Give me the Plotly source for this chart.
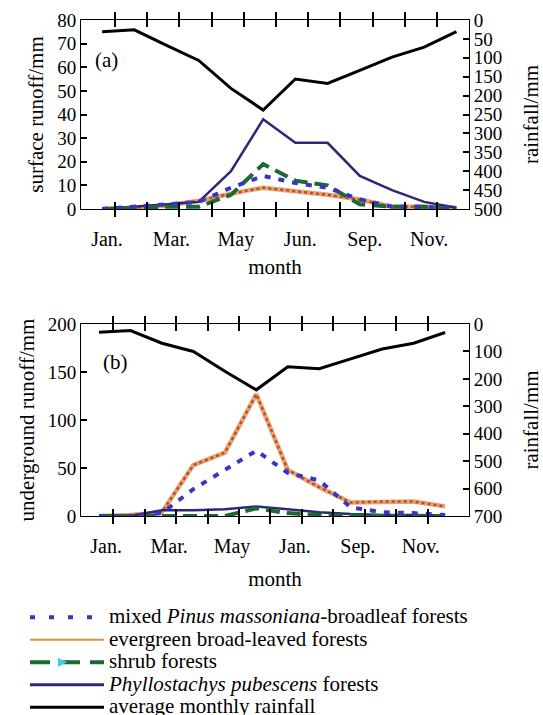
import plotly.graph_objects as go
from plotly.subplots import make_subplots

months = list(range(1, 13))
tick_months = [1, 3, 5, 7, 9, 11]
ticktext_a = ["Jan.", "Mar.", "May", "Jun.", "Sep.", "Nov."]
ticktext_b = ["Jan.", "Mar.", "May", "Jan.", "Sep.", "Nov."]

# (a) surface runoff (mm)
surf_mixed = [0, 1, 2, 3, 9, 14, 11, 9, 4, 1, 1, 0]
surf_evergreen = [0, 0.5, 1.5, 3.5, 6.5, 9, 7.5, 6, 4, 1, 1, 0.5]
surf_shrub = [0, 0.5, 1, 1, 6, 19, 12, 10, 2, 1, 1, 0]
surf_phyllo = [0, 1, 2, 3, 16, 38, 28, 28, 14, 8, 3, 0.5]
rain_a = [31, 26, 67, 107, 181, 238, 156, 168, 133, 98, 72, 31]

# (b) underground runoff (mm)
under_mixed = [0, 0, 3, 28, 48, 68, 45, 37, 9, 4, 3, 1]
under_evergreen = [0, 1, 4, 53, 66, 127, 48, 30, 14, 15, 15, 10]
under_shrub = [0, 0, 0, 0, 0, 8, 3, 1, 0, 0, 0, 0]
under_phyllo = [0, 0, 6, 6, 7, 10, 7, 4, 2, 1, 1, 0.5]
rain_b = [30, 24, 70, 100, 172, 240, 156, 163, 127, 91, 70, 31]

FONT = "'Liberation Serif', 'Times New Roman', Times, serif"
C_MIXED = "#3a34c6"
C_ORANGE = "#eea070"
C_BROWN = "#a9582e"
C_SHRUB = "#1b6a2f"
C_PHYLLO = "#2c2878"

fig = make_subplots(rows=2, cols=1, specs=[[{"secondary_y": True}], [{"secondary_y": True}]])


def add_panel(row, mixed, ever, shrub, phyllo, rain):
    fig.add_trace(go.Scatter(x=months, y=ever, mode="lines", showlegend=False,
                             line=dict(color=C_ORANGE, width=4.5)), row=row, col=1)
    fig.add_trace(go.Scatter(x=months, y=ever, mode="lines", showlegend=False,
                             line=dict(color=C_BROWN, width=2.5, dash="3px,3px")), row=row, col=1)
    fig.add_trace(go.Scatter(x=months, y=phyllo, mode="lines", showlegend=False,
                             line=dict(color=C_PHYLLO, width=2.5)), row=row, col=1)
    fig.add_trace(go.Scatter(x=months, y=shrub, mode="lines", showlegend=False,
                             line=dict(color=C_SHRUB, width=4, dash="14px,7px")), row=row, col=1)
    fig.add_trace(go.Scatter(x=months, y=mixed, mode="lines", showlegend=False,
                             line=dict(color=C_MIXED, width=4, dash="6px,8px")), row=row, col=1)
    fig.add_trace(go.Scatter(x=months, y=rain, mode="lines", showlegend=False,
                             line=dict(color="black", width=3)), row=row, col=1, secondary_y=True)


add_panel(1, surf_mixed, surf_evergreen, surf_shrub, surf_phyllo, rain_a)
add_panel(2, under_mixed, under_evergreen, under_shrub, under_phyllo, rain_b)

# legend entries
def leg(name, **kw):
    fig.add_trace(go.Scatter(x=[None], y=[None], name='<span style="font-size:21px">' + name + '</span>', **kw),
                  row=1, col=1)

leg("mixed <i>Pinus massoniana</i>-broadleaf forests", mode="lines",
    line=dict(color=C_MIXED, width=4, dash="5px,14px"))
leg("evergreen broad-leaved forests", mode="lines", line=dict(color="#f08a40", width=2))
leg("shrub forests", mode="lines+markers", line=dict(color=C_SHRUB, width=4, dash="20px,10px"),
    marker=dict(symbol="arrow-right", color="#40d0e0", size=9, line=dict(width=0)))
leg("<i>Phyllostachys pubescens</i> forests", mode="lines", line=dict(color=C_PHYLLO, width=3))
leg("average monthly rainfall", mode="lines", line=dict(color="black", width=3))

L, R, T, B = 81, 74, 20, 199
H = 715 - T - B
top_dom = [(516 - 209) / H, 1.0]
bot_dom = [0.0, (516 - 324) / H]


def month_ticks(labels, offset):
    lab = dict(zip(tick_months, labels))
    vals = [m + offset for m in months[:-1]]
    text = [lab.get(m, "") for m in months[:-1]]
    return vals, text


tv_a, tt_a = month_ticks(ticktext_a, 0.4)
tv_b, tt_b = month_ticks(ticktext_b, 0.45)

common_x = dict(showline=True, linecolor="black", mirror="allticks",
                ticks="inside", ticklen=7, tickwidth=2, tickcolor="black",
                tickmode="array", tickfont=dict(family=FONT, size=20, color="black"),
                ticklabelstandoff=12)
common_y = dict(showline=True, linecolor="black", ticks="inside", ticklen=6,
                tickwidth=2, tickcolor="black",
                tickfont=dict(family=FONT, size=19, color="black"))

fig.update_layout(
    width=543, height=715, margin=dict(l=L, r=R, t=T, b=B, autoexpand=False),
    paper_bgcolor="white", plot_bgcolor="white",
    font=dict(family=FONT, size=20, color="black"),
    xaxis=dict(common_x, range=[0.345, 12.39], tickvals=tv_a, ticktext=tt_a, ticklabelshift=-8,
               title=dict(text="month", font=dict(family=FONT, size=21, color="black"), standoff=9)),
    xaxis2=dict(common_x, range=[0.428, 12.76], tickvals=tv_b, ticktext=tt_b, ticklabelshift=-7,
                title=dict(text="month", font=dict(family=FONT, size=21, color="black"), standoff=14)),
    yaxis=dict(common_y, domain=top_dom, range=[0, 80], dtick=10,
               title=dict(text="surface runoff/mm", font=dict(family=FONT, size=21), standoff=7)),
    yaxis2=dict(common_y, range=[500, 0], dtick=50, side="right",
                title=dict(text="rainfall/mm", font=dict(family=FONT, size=21), standoff=28)),
    yaxis3=dict(common_y, domain=bot_dom, range=[0, 200], dtick=50,
                title=dict(text="underground runoff/mm", font=dict(family=FONT, size=21), standoff=7)),
    yaxis4=dict(common_y, range=[700, 0], dtick=100, side="right",
                title=dict(text="rainfall/mm", font=dict(family=FONT, size=21), standoff=28)),
    legend=dict(x=(31 - L - 6) / (543 - L - R), y=(516 - 601) / H, xanchor="left", yanchor="top",
                font=dict(family=FONT, size=15, color="black"), itemwidth=74,
                bgcolor="rgba(0,0,0,0)", tracegroupgap=0),
    annotations=[
        dict(text="(a)", xref="x domain", yref="y domain", x=0.065, y=0.79, showarrow=False,
             xanchor="center", yanchor="middle", font=dict(family=FONT, size=21)),
        dict(text="(b)", xref="x2 domain", yref="y3 domain", x=0.09, y=0.8, showarrow=False,
             xanchor="center", yanchor="middle", font=dict(family=FONT, size=21)),
    ],
)
fig.update_xaxes(domain=[0, 1], showgrid=False, zeroline=False)
fig.update_yaxes(showgrid=False, zeroline=False)

fig.write_html("out.html", config={"displayModeBar": False},
               post_script="document.body.style.margin='0px';")
